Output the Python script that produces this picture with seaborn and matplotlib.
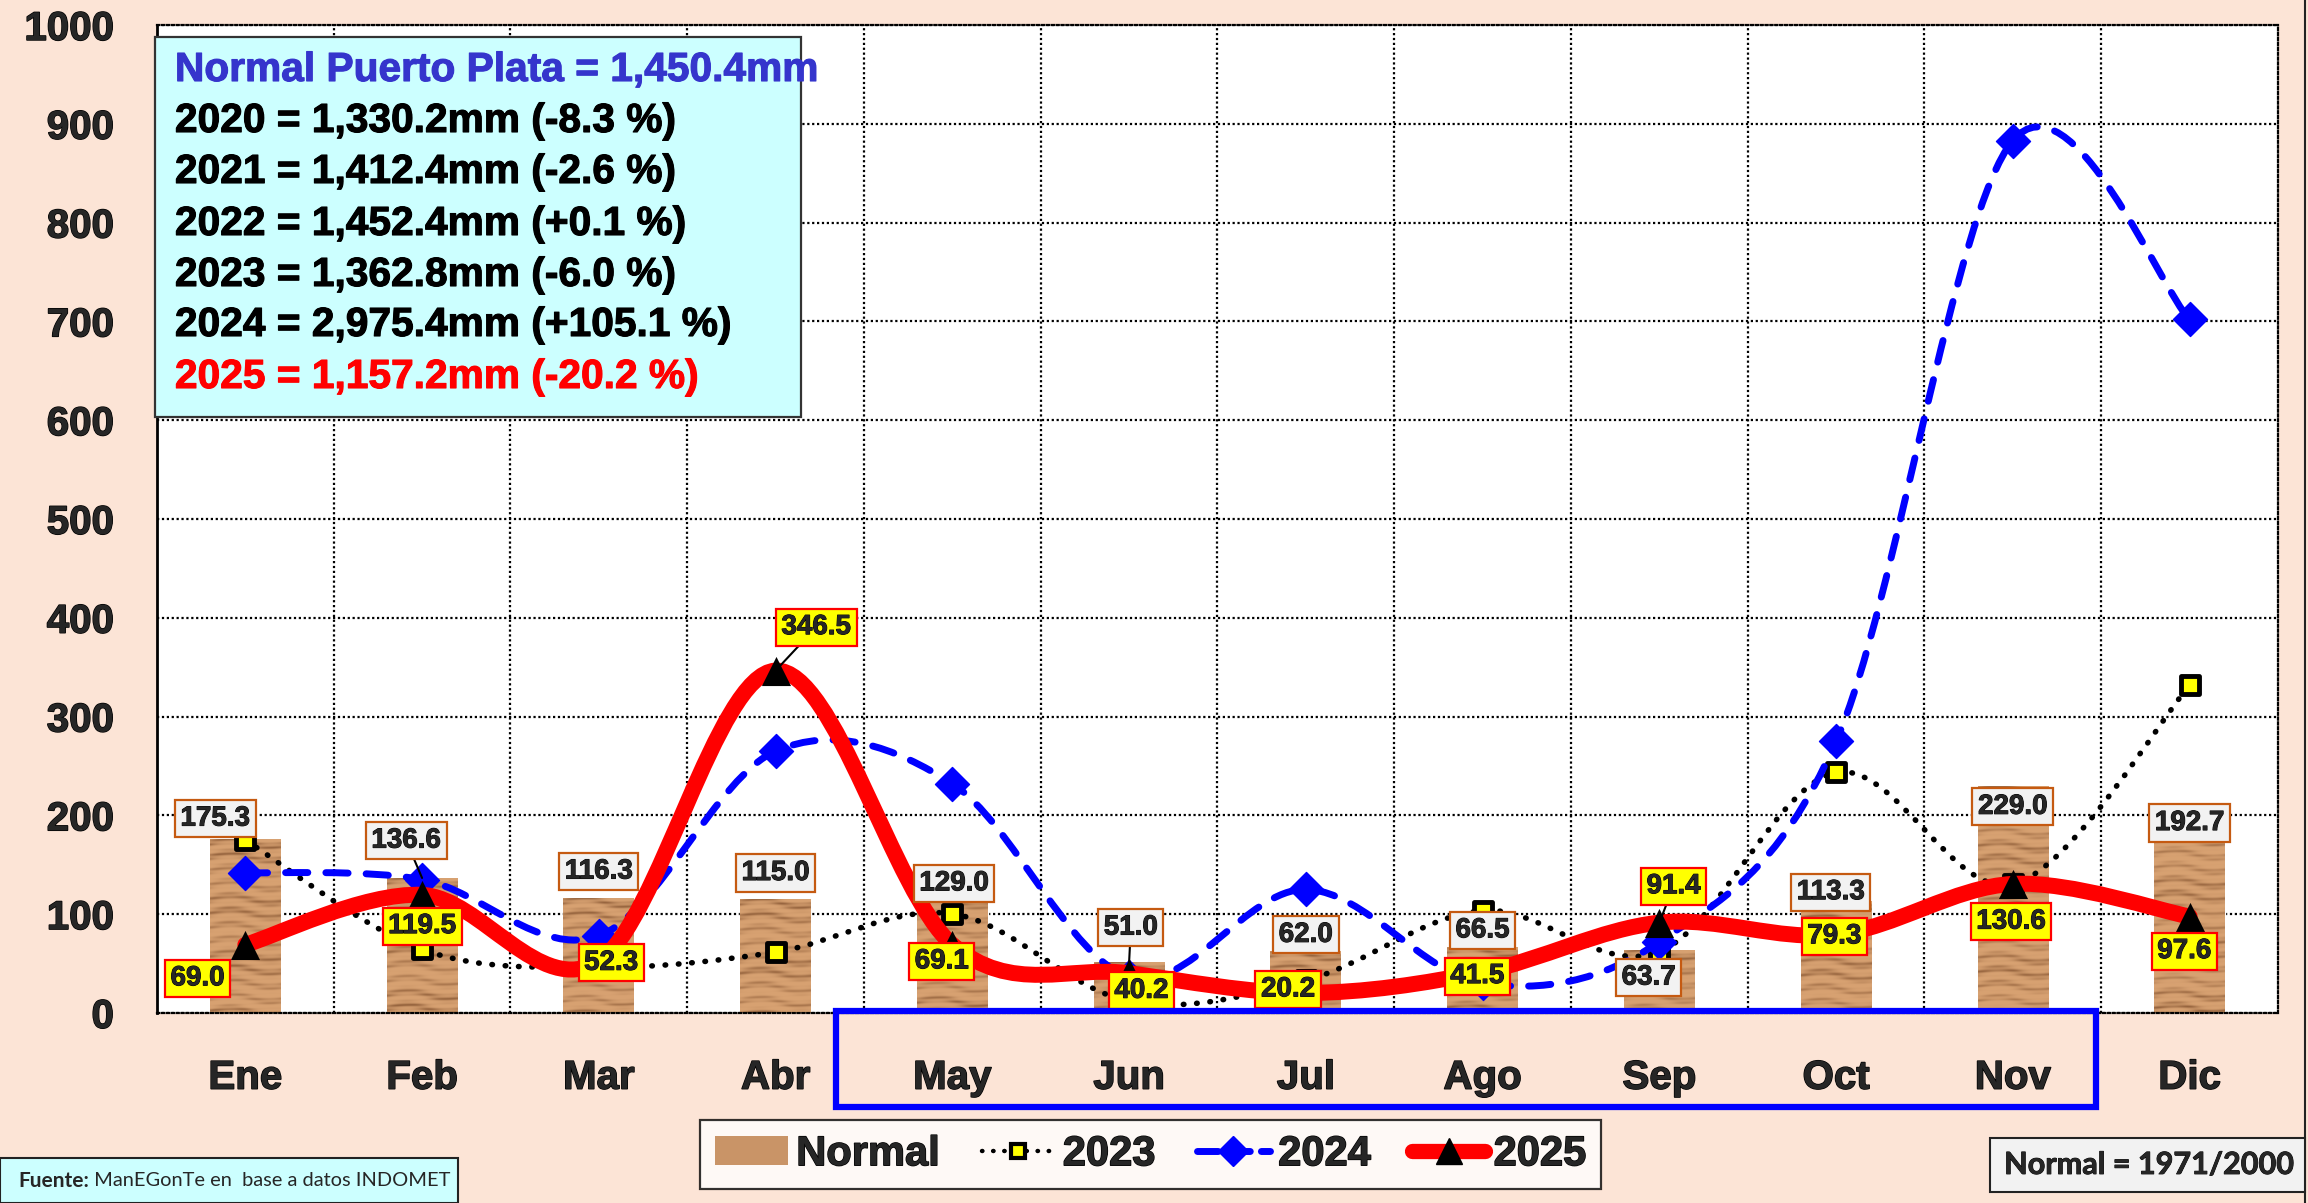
import numpy as np
import pandas as pd
import matplotlib
matplotlib.use("Agg")
import matplotlib.pyplot as plt
import matplotlib.patheffects as pe
import seaborn as sns
from matplotlib.path import Path
from matplotlib.patches import PathPatch, Rectangle, Patch
from matplotlib.lines import Line2D

# ---------------- data ----------------
months = ["Ene", "Feb", "Mar", "Abr", "May", "Jun", "Jul", "Ago", "Sep", "Oct", "Nov", "Dic"]
normal = [175.3, 136.6, 116.3, 115.0, 129.0, 51.0, 62.0, 66.5, 63.7, 113.3, 229.0, 192.7]
rain_2023 = [175.0, 64.3, 46.2, 61.5, 100.4, 11.8, 33.0, 103.6, 61.9, 243.4, 130.2, 331.5]
rain_2024 = [142.0, 135.0, 78.0, 265.0, 232.0, 36.4, 125.0, 30.0, 72.0, 275.0, 883.0, 702.0]
rain_2025 = [69.0, 119.5, 52.3, 346.5, 69.1, 40.2, 20.2, 41.5, 91.4, 79.3, 130.6, 97.6]
yticks = list(range(0, 1001, 100))

summary_lines = [
    "Normal Puerto Plata = 1,450.4mm",
    "2020 = 1,330.2mm (-8.3 %)",
    "2021 = 1,412.4mm (-2.6 %)",
    "2022 = 1,452.4mm (+0.1 %)",
    "2023 = 1,362.8mm (-6.0 %)",
    "2024 = 2,975.4mm (+105.1 %)",
    "2025 = 1,157.2mm (-20.2 %)",
]
summary_colors = ["#3535CC", "black", "black", "black", "black", "black", "#FF0000"]

# label placement (offsets from each mark, in data units)
normal_dx = [-0.17, -0.09, 0.0, 0.0, 0.01, 0.01, 0.0, 0.0, -0.06, -0.03, 0.0, 0.0]
normal_dy = [21.4, 37.8, 26.8, 26.6, 2.1, 35.4, 17.0, 17.0, -27.9, 8.9, -20.4, -0.5]
y25_dx = [-0.27, 0.0, 0.07, 0.23, -0.06, 0.07, -0.10, -0.03, 0.08, -0.01, -0.01, -0.03]
y25_dy = [-34.0, -31.6, -1.6, 44.0, -16.9, -17.8, 3.6, -4.2, 36.8, -1.8, -38.2, -35.0]

# ---------------- style ----------------
sns.set_style("white")
plt.rcParams["font.family"] = ["Liberation Sans", "DejaVu Sans"]
plt.rcParams["font.weight"] = "bold"


def heavy(color="black", w=0.9):
    return [pe.withStroke(linewidth=w, foreground=color)]


BG = "#FCE4D6"
fig = plt.figure(figsize=(23.08, 12.03), dpi=100, facecolor=BG)
ax = fig.add_axes([0.0680, 0.1580, 0.9190, 0.8212])
ax.set_facecolor("white")

x = np.arange(len(months))
df = pd.DataFrame({"mes": months, "normal": normal})

# bars for the climatological normal
sns.barplot(data=df, x="mes", y="normal", color="#C99467", width=0.4,
            saturation=1, ax=ax, zorder=2)


def wood_texture(h, w):
    yy, xx = np.mgrid[0:h, 0:w]
    grain = (0.55 * np.sin(yy * 0.45 + 1.8 * np.sin(xx * 0.08))
             + 0.30 * np.sin(yy * 1.3 + xx * 0.04 + 1.0)
             + 0.15 * np.sin(yy * 0.11 + 0.5))
    t = (grain - grain.min()) / (grain.max() - grain.min())
    t = t[..., None] ** 3
    light = np.array([216, 162, 114]) / 255.0
    dark = np.array([150, 100, 62]) / 255.0
    return light * (1 - t) + dark * t


px_per_unit_y = 0.8212 * 1203 / 1000
px_per_cat = 0.9190 * 2308 / 12
for p in ax.patches:
    bx, bw, bh = p.get_x(), p.get_width(), p.get_height()
    hpx = max(int(bh * px_per_unit_y), 2)
    wpx = max(int(bw * px_per_cat), 2)
    ax.imshow(wood_texture(hpx, wpx), extent=(bx, bx + bw, 0, bh),
              aspect="auto", interpolation="bilinear", zorder=2.1)


def smooth_path(xs, ys):
    pts = np.column_stack([xs, ys]).astype(float)
    n = len(pts)
    verts = [pts[0]]
    codes = [Path.MOVETO]
    for i in range(n - 1):
        p0 = pts[i - 1] if i > 0 else pts[i]
        p1, p2 = pts[i], pts[i + 1]
        p3 = pts[i + 2] if i + 2 < n else pts[i + 1]
        verts += [p1 + (p2 - p0) / 6.0, p2 - (p3 - p1) / 6.0, p2]
        codes += [Path.CURVE4] * 3
    return Path(verts, codes)


def add_curve(vals, color, lw, ls, z):
    patch = PathPatch(smooth_path(x, vals), fill=False, edgecolor=color,
                      linewidth=lw, linestyle=ls, transform=ax.transData,
                      zorder=z, capstyle="round", joinstyle="round")
    ax.add_patch(patch)


# 2023: black dotted
add_curve(rain_2023, "black", 4.0, (0, (0.1, 2.3)), 3)
sns.scatterplot(x=x, y=rain_2023, marker="s", s=150, color="#FFFF00",
                edgecolor="black", linewidth=3.5, ax=ax, zorder=3.5)
# 2024: blue dashed
add_curve(rain_2024, "#0000FF", 5.0, (0, (3.2, 2.6)), 4)
sns.scatterplot(x=x, y=rain_2024, marker="D", s=300, color="#0000FF",
                edgecolor="#0000FF", linewidth=1, ax=ax, zorder=4.5)
# 2025: thick red
add_curve(rain_2025, "#FF0000", 11.5, "-", 5)
sns.scatterplot(x=x, y=rain_2025, marker="^", s=440, color="black",
                edgecolor="black", linewidth=0, ax=ax, zorder=6)

# leader lines from moved labels back to their marks
leaders = [(1, normal, normal_dx, normal_dy), (5, normal, normal_dx, normal_dy),
           (3, rain_2025, y25_dx, y25_dy), (8, rain_2025, y25_dx, y25_dy)]
for i, vals, dxs, dys in leaders:
    ax.plot([i + dxs[i], i], [vals[i] + dys[i], vals[i]], color="black",
            lw=1.5, zorder=6.5)

# value labels
for i in range(len(months)):
    ax.text(i + normal_dx[i], normal[i] + normal_dy[i], f"{normal[i]:.1f}",
            ha="center", va="center", fontsize=20, fontweight="bold", zorder=7,
            path_effects=heavy(w=0.7),
            bbox=dict(boxstyle="square,pad=0.2", fc="#F2F2F2", ec="#C55A11", lw=1.6))
    ax.text(i + y25_dx[i], rain_2025[i] + y25_dy[i], f"{rain_2025[i]:.1f}",
            ha="center", va="center", fontsize=20, fontweight="bold", zorder=7.5,
            path_effects=heavy(w=0.7),
            bbox=dict(boxstyle="square,pad=0.2", fc="#FFFF00", ec="#FF0000", lw=1.6))

# axes, ticks and grid
ax.set_xlim(-0.5, 11.5)
ax.set_ylim(0, 1000)
ax.set_yticks(yticks)
ax.set_yticklabels([str(v) for v in yticks])
ax.set_xticks(x)
ax.set_xticklabels(months)
ax.set_xticks(np.arange(0.5, 11.0, 1.0), minor=True)
ax.set_xlabel("")
ax.set_ylabel("")
ax.tick_params(axis="y", length=0, pad=31, labelsize=29)
ax.tick_params(axis="x", which="both", length=0, pad=33, labelsize=29)
for lab in ax.get_xticklabels() + ax.get_yticklabels():
    lab.set_fontweight("bold")
    lab.set_path_effects(heavy(w=1.0))
grid_ls = (0, (1.0, 1.2))
ax.set_axisbelow(True)
ax.yaxis.grid(True, color="black", linestyle=grid_ls, linewidth=1.6)
ax.xaxis.grid(True, which="minor", color="black", linestyle=grid_ls, linewidth=1.6)
ax.xaxis.grid(False, which="major")
for side in ["top", "right", "bottom"]:
    ax.spines[side].set_linestyle(grid_ls)
    ax.spines[side].set_linewidth(1.6)
    ax.spines[side].set_color("black")
ax.spines["left"].set_linewidth(2.0)
ax.spines["left"].set_color("black")

# summary box
fig.add_artist(Rectangle((0.0672, 0.6533), 0.2799, 0.3159, transform=fig.transFigure,
                         fc="#CCFFFF", ec="#333333", lw=1.6, zorder=10))
line_y = [70, 121, 172, 224, 275, 325, 377]
for txt, col, yy in zip(summary_lines, summary_colors, line_y):
    fig.text(0.0758, 1 - yy / 1203, txt, color=col, fontsize=29.3, fontweight="bold",
             ha="left", va="center", zorder=11, path_effects=heavy(col, 0.8))

# blue frame around the May-Nov months
fig.add_artist(Rectangle((0.3622, 0.0800), 0.5459, 0.0800, transform=fig.transFigure,
                         fill=False, ec="#0000FF", lw=4.5, zorder=10))

# legend
handles = [
    Patch(facecolor="#C99467", edgecolor="none"),
    Line2D([], [], color="black", lw=3.2, linestyle=(0, (0.1, 2.4)), dash_capstyle="round",
           marker="s", markersize=10, markerfacecolor="#FFFF00", markeredgecolor="black",
           markeredgewidth=3.0),
    Line2D([], [], color="#0000FF", lw=5.0, linestyle=(0, (3.0, 1.6)), dash_capstyle="round",
           marker="D", markersize=15, markerfacecolor="#0000FF", markeredgecolor="#0000FF"),
    Line2D([], [], color="#FF0000", lw=11, solid_capstyle="round",
           marker="^", markersize=19, markerfacecolor="black", markeredgecolor="black"),
]
leg = fig.legend(handles, ["Normal", "2023", "2024", "2025"], ncol=4, loc="center",
                 bbox_to_anchor=(0.4985, 0.0405), bbox_transform=fig.transFigure,
                 prop={"weight": "bold", "size": 30}, frameon=True, fancybox=False,
                 edgecolor="black", handlelength=1.75, handletextpad=0.2,
                 columnspacing=1.0, borderpad=0.35, numpoints=1)
leg.get_frame().set_linewidth(1.6)
leg.set_zorder(12)
for t in leg.get_texts():
    t.set_path_effects(heavy(w=1.0))

# source note, bottom left
fig.add_artist(Rectangle((0.0, 0.0), 0.1985, 0.0374, transform=fig.transFigure,
                         fc="#CCFFFF", ec="#222222", lw=1.5, zorder=10))
t1 = fig.text(0.0078, 0.0187, "Fuente:", fontsize=15, fontweight="bold", family="Lato",
              ha="left", va="center", zorder=11)
fig.canvas.draw()
bb = t1.get_window_extent(fig.canvas.get_renderer())
fig.text(bb.x1 / fig.bbox.width, 0.0187, " ManEGonTe en  base a datos INDOMET",
         fontsize=14.4, fontweight="normal", family="Lato", ha="left", va="center", zorder=11)

# reference period note, bottom right
fig.add_artist(Rectangle((0.8622, 0.0091), 0.1364, 0.0449, transform=fig.transFigure,
                         fc="#F2F2F2", ec="#222222", lw=1.5, zorder=10))
fig.text(0.9310, 0.0316, "Normal = 1971/2000", fontsize=22, fontweight="bold", family="Lato",
         ha="center", va="center", zorder=11, path_effects=heavy(w=0.6))

# right border of the chart area
fig.add_artist(Line2D([0.9987, 0.9987], [0.0, 1.0], transform=fig.transFigure,
                      color="#222222", lw=1.5, zorder=9))

fig.savefig("out.png", dpi=100, facecolor=BG)
